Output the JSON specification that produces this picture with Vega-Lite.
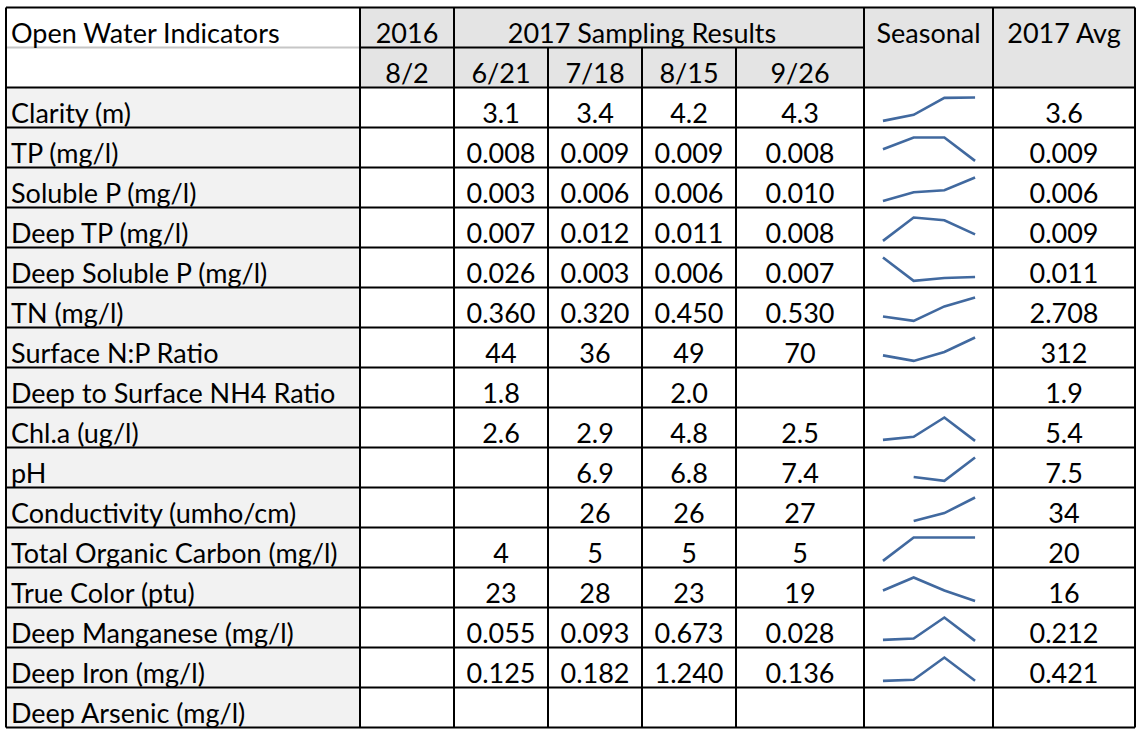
{
  "$schema": "https://vega.github.io/schema/vega-lite/v6.json",
  "width": 1138,
  "height": 730,
  "autosize": {"type": "none"},
  "padding": 0,
  "background": "white",
  "config": {
    "view": {"stroke": null},
    "axis": {"disable": true},
    "text": {"font": "Lato", "fontSize": 27, "color": "#000000", "baseline": "alphabetic", "dy": -4.5}
  },
  "datasets": {
    "dates": [
      {"date": "8/2", "year": "2016"},
      {"date": "6/21", "year": "2017"},
      {"date": "7/18", "year": "2017"},
      {"date": "8/15", "year": "2017"},
      {"date": "9/26", "year": "2017"}
    ],
    "table": [
      {"indicator": "Clarity (m)", "8/2": null, "6/21": 3.1, "7/18": 3.4, "8/15": 4.24, "9/26": 4.26, "avg": 3.6, "decimals": 1},
      {"indicator": "TP (mg/l)", "8/2": null, "6/21": 0.0083, "7/18": 0.009, "8/15": 0.009, "9/26": 0.0076, "avg": 0.009, "decimals": 3},
      {"indicator": "Soluble P (mg/l)", "8/2": null, "6/21": 0.003, "7/18": 0.0056, "8/15": 0.0062, "9/26": 0.01, "avg": 0.006, "decimals": 3},
      {"indicator": "Deep TP (mg/l)", "8/2": null, "6/21": 0.007, "7/18": 0.012, "8/15": 0.0114, "9/26": 0.0084, "avg": 0.009, "decimals": 3},
      {"indicator": "Deep Soluble P (mg/l)", "8/2": null, "6/21": 0.026, "7/18": 0.003, "8/15": 0.0058, "9/26": 0.0069, "avg": 0.011, "decimals": 3},
      {"indicator": "TN (mg/l)", "8/2": null, "6/21": 0.36, "7/18": 0.32, "8/15": 0.45, "9/26": 0.53, "avg": 2.708, "decimals": 3},
      {"indicator": "Surface N:P Ratio", "8/2": null, "6/21": 44, "7/18": 36, "8/15": 49, "9/26": 70, "avg": 312, "decimals": 0},
      {"indicator": "Deep to Surface NH4 Ratio", "8/2": null, "6/21": 1.8, "7/18": null, "8/15": 2.0, "9/26": null, "avg": 1.9, "decimals": 1},
      {"indicator": "Chl.a (ug/l)", "8/2": null, "6/21": 2.6, "7/18": 2.9, "8/15": 4.8, "9/26": 2.5, "avg": 5.4, "decimals": 1},
      {"indicator": "pH", "8/2": null, "6/21": null, "7/18": 6.9, "8/15": 6.8, "9/26": 7.4, "avg": 7.5, "decimals": 1},
      {"indicator": "Conductivity (umho/cm)", "8/2": null, "6/21": null, "7/18": 25.6, "8/15": 26.2, "9/26": 27.4, "avg": 34, "decimals": 0},
      {"indicator": "Total Organic Carbon (mg/l)", "8/2": null, "6/21": 4, "7/18": 5, "8/15": 5, "9/26": 5, "avg": 20, "decimals": 0},
      {"indicator": "True Color (ptu)", "8/2": null, "6/21": 23, "7/18": 28, "8/15": 23, "9/26": 19, "avg": 16, "decimals": 0},
      {"indicator": "Deep Manganese (mg/l)", "8/2": null, "6/21": 0.055, "7/18": 0.093, "8/15": 0.673, "9/26": 0.028, "avg": 0.212, "decimals": 3},
      {"indicator": "Deep Iron (mg/l)", "8/2": null, "6/21": 0.125, "7/18": 0.182, "8/15": 1.24, "9/26": 0.136, "avg": 0.421, "decimals": 3},
      {"indicator": "Deep Arsenic (mg/l)", "8/2": null, "6/21": null, "7/18": null, "8/15": null, "9/26": null, "avg": null, "decimals": 3}
    ]
  },
  "layer": [
    {
      "data": {"values": [{}]},
      "mark": {"type": "rect", "fill": "#e4e4e4"},
      "encoding": {
        "x": {"datum": 1, "type": "quantitative", "axis": null, "scale": {"type": "linear", "domain": [0, 1, 2, 3, 4, 5, 6, 7, 8], "range": [6, 360, 454, 548, 642, 736, 864, 993, 1135], "nice": false, "zero": false}},
        "x2": {"datum": 8},
        "y": {"datum": 0, "type": "quantitative", "axis": null, "scale": {"type": "linear", "domain": [0, 18], "range": [7.5, 727.5], "nice": false, "zero": false}},
        "y2": {"datum": 2}
      }
    },
    {
      "data": {"values": [{}]},
      "mark": {"type": "rect", "fill": "#f2f2f2"},
      "encoding": {
        "x": {"datum": 0, "type": "quantitative", "axis": null},
        "x2": {"datum": 1},
        "y": {"datum": 2, "type": "quantitative", "axis": null},
        "y2": {"datum": 18}
      }
    },
    {
      "data": {"values": [{}]},
      "mark": {"type": "rule", "stroke": "#c6c6c6", "strokeWidth": 2},
      "encoding": {
        "x": {"datum": 0, "type": "quantitative", "axis": null},
        "x2": {"datum": 1},
        "y": {"datum": 1, "type": "quantitative", "axis": null}
      }
    },
    {
      "data": {"values": [{}]},
      "mark": {"type": "rule", "stroke": "#000000", "strokeWidth": 2},
      "encoding": {
        "x": {"datum": 1, "type": "quantitative", "axis": null},
        "x2": {"datum": 6},
        "y": {"datum": 1, "type": "quantitative", "axis": null}
      }
    },
    {
      "data": {"values": [{}]},
      "mark": {"type": "rule", "stroke": "#000000", "strokeWidth": 2},
      "encoding": {
        "x": {"datum": 0, "type": "quantitative", "axis": null},
        "x2": {"datum": 8},
        "y": {"datum": 0, "type": "quantitative", "axis": null}
      }
    },
    {
      "data": {"name": "table"},
      "transform": [
        {"window": [{"op": "row_number", "as": "idx"}]},
        {"calculate": "datum.idx + 1", "as": "rtop"}
      ],
      "mark": {"type": "rule", "stroke": "#000000", "strokeWidth": 2},
      "encoding": {
        "x": {"datum": 0, "type": "quantitative", "axis": null},
        "x2": {"datum": 8},
        "y": {"field": "rtop", "type": "quantitative", "axis": null}
      }
    },
    {
      "data": {"values": [{}]},
      "mark": {"type": "rule", "stroke": "#000000", "strokeWidth": 2},
      "encoding": {
        "x": {"datum": 0, "type": "quantitative", "axis": null},
        "x2": {"datum": 8},
        "y": {"datum": 18, "type": "quantitative", "axis": null}
      }
    },
    {
      "data": {"name": "dates"},
      "transform": [
        {"window": [{"op": "row_number", "as": "idx"}]},
        {"calculate": "datum.idx >= 3 ? 1 : 0", "as": "ytop"}
      ],
      "mark": {"type": "rule", "stroke": "#000000", "strokeWidth": 2},
      "encoding": {
        "x": {"field": "idx", "type": "quantitative", "axis": null},
        "y": {"field": "ytop", "type": "quantitative", "axis": null},
        "y2": {"datum": 18}
      }
    },
    {
      "data": {"values": [{}]},
      "mark": {"type": "rule", "stroke": "#000000", "strokeWidth": 2},
      "encoding": {
        "x": {"datum": 0, "type": "quantitative", "axis": null},
        "y": {"datum": 0, "type": "quantitative", "axis": null},
        "y2": {"datum": 18}
      }
    },
    {
      "data": {"values": [{}]},
      "mark": {"type": "rule", "stroke": "#000000", "strokeWidth": 2},
      "encoding": {
        "x": {"datum": 6, "type": "quantitative", "axis": null},
        "y": {"datum": 0, "type": "quantitative", "axis": null},
        "y2": {"datum": 18}
      }
    },
    {
      "data": {"values": [{}]},
      "mark": {"type": "rule", "stroke": "#000000", "strokeWidth": 2},
      "encoding": {
        "x": {"datum": 7, "type": "quantitative", "axis": null},
        "y": {"datum": 0, "type": "quantitative", "axis": null},
        "y2": {"datum": 18}
      }
    },
    {
      "data": {"values": [{}]},
      "mark": {"type": "rule", "stroke": "#000000", "strokeWidth": 2},
      "encoding": {
        "x": {"datum": 8, "type": "quantitative", "axis": null},
        "y": {"datum": 0, "type": "quantitative", "axis": null},
        "y2": {"datum": 18}
      }
    },
    {
      "data": {"values": [{}]},
      "mark": {"type": "text", "align": "left", "dx": 5},
      "encoding": {
        "x": {"datum": 0, "type": "quantitative", "axis": null},
        "y": {"datum": 1, "type": "quantitative", "axis": null},
        "text": {"value": "Open Water Indicators"}
      }
    },
    {
      "data": {"values": [{}]},
      "mark": {"type": "text", "align": "center"},
      "encoding": {
        "x": {"datum": 1.5, "type": "quantitative", "axis": null},
        "y": {"datum": 1, "type": "quantitative", "axis": null},
        "text": {"value": "2016"}
      }
    },
    {
      "data": {"values": [{}]},
      "mark": {"type": "text", "align": "center"},
      "encoding": {
        "x": {"datum": 4, "type": "quantitative", "axis": null},
        "y": {"datum": 1, "type": "quantitative", "axis": null},
        "text": {"value": "2017 Sampling Results"}
      }
    },
    {
      "data": {"values": [{}]},
      "mark": {"type": "text", "align": "center"},
      "encoding": {
        "x": {"datum": 6.5, "type": "quantitative", "axis": null},
        "y": {"datum": 1, "type": "quantitative", "axis": null},
        "text": {"value": "Seasonal"}
      }
    },
    {
      "data": {"values": [{}]},
      "mark": {"type": "text", "align": "center"},
      "encoding": {
        "x": {"datum": 7.5, "type": "quantitative", "axis": null},
        "y": {"datum": 1, "type": "quantitative", "axis": null},
        "text": {"value": "2017 Avg"}
      }
    },
    {
      "data": {"name": "dates"},
      "transform": [
        {"window": [{"op": "row_number", "as": "idx"}]},
        {"calculate": "datum.idx + 0.5", "as": "cx"}
      ],
      "mark": {"type": "text", "align": "center"},
      "encoding": {
        "x": {"field": "cx", "type": "quantitative", "axis": null},
        "y": {"datum": 2, "type": "quantitative", "axis": null},
        "text": {"field": "date"}
      }
    },
    {
      "data": {"name": "table"},
      "transform": [
        {"window": [{"op": "row_number", "as": "idx"}]},
        {"calculate": "datum.idx + 2", "as": "rb"}
      ],
      "mark": {"type": "text", "align": "left", "dx": 5},
      "encoding": {
        "x": {"datum": 0, "type": "quantitative", "axis": null},
        "y": {"field": "rb", "type": "quantitative", "axis": null},
        "text": {"field": "indicator"}
      }
    },
    {
      "data": {"name": "table"},
      "transform": [
        {"window": [{"op": "row_number", "as": "idx"}]},
        {"fold": ["8/2", "6/21", "7/18", "8/15", "9/26"], "as": ["date", "value"]},
        {"filter": "isValid(datum.value)"},
        {"calculate": "indexof(['8/2','6/21','7/18','8/15','9/26'], datum.date) + 1.5", "as": "cx"},
        {"calculate": "datum.idx + 2", "as": "rb"},
        {"calculate": "format(datum.value, '.' + datum.decimals + 'f')", "as": "label"}
      ],
      "mark": {"type": "text", "align": "center"},
      "encoding": {
        "x": {"field": "cx", "type": "quantitative", "axis": null},
        "y": {"field": "rb", "type": "quantitative", "axis": null},
        "text": {"field": "label"}
      }
    },
    {
      "data": {"name": "table"},
      "transform": [
        {"window": [{"op": "row_number", "as": "idx"}]},
        {"filter": "isValid(datum.avg)"},
        {"calculate": "datum.idx + 2", "as": "rb"},
        {"calculate": "format(datum.avg, '.' + datum.decimals + 'f')", "as": "label"}
      ],
      "mark": {"type": "text", "align": "center"},
      "encoding": {
        "x": {"datum": 7.5, "type": "quantitative", "axis": null},
        "y": {"field": "rb", "type": "quantitative", "axis": null},
        "text": {"field": "label"}
      }
    },
    {
      "data": {"name": "table"},
      "transform": [
        {"window": [{"op": "row_number", "as": "idx"}]},
        {"fold": ["6/21", "7/18", "8/15", "9/26"], "as": ["date", "value"]},
        {"joinaggregate": [{"op": "min", "field": "value", "as": "vmin"}, {"op": "max", "field": "value", "as": "vmax"}], "groupby": ["indicator"]},
        {"calculate": "indexof(['6/21','7/18','8/15','9/26'], datum.date)", "as": "si"},
        {"calculate": "6.147 + datum.si * 0.238", "as": "sx"},
        {"calculate": "isValid(datum.value) && datum.vmax > datum.vmin ? datum.idx + 1.25 + (datum.vmax - datum.value) / (datum.vmax - datum.vmin) * 0.585 : null", "as": "sy"}
      ],
      "mark": {"type": "line", "stroke": "#41699f", "strokeWidth": 2.6, "invalid": "break-paths-filter-domains"},
      "encoding": {
        "x": {"field": "sx", "type": "quantitative", "axis": null},
        "y": {"field": "sy", "type": "quantitative", "axis": null},
        "detail": {"field": "indicator"},
        "order": {"field": "si"}
      }
    }
  ]
}
